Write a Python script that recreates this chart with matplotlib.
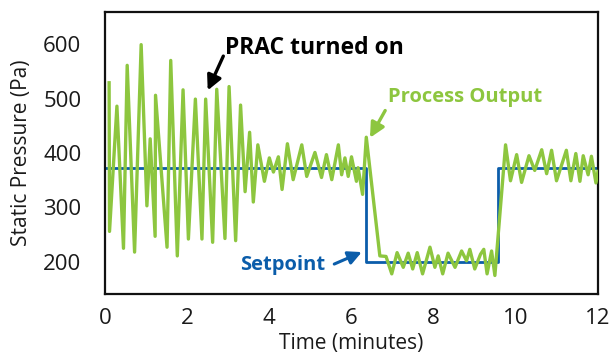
import matplotlib
matplotlib.use("Agg")
import matplotlib.pyplot as plt

plt.rcParams['font.family'] = ['Open Sans', 'DejaVu Sans']

# Process output (time in minutes, static pressure in Pa)
pv_time = [0.10, 0.11, 0.29, 0.45, 0.54, 0.72, 0.88, 1.02, 1.10, 1.22, 1.23, 1.51,
           1.60, 1.76, 1.90, 2.03, 2.20, 2.36, 2.45, 2.62, 2.72, 2.92, 3.02, 3.18,
           3.30, 3.41, 3.52, 3.61, 3.72, 3.88, 4.00, 4.10, 4.22, 4.31, 4.44, 4.58,
           4.79, 4.91, 5.11, 5.27, 5.39, 5.52, 5.68, 5.76, 5.84, 5.92, 6.00, 6.12,
           6.16, 6.27, 6.36,
           6.69, 6.84, 6.98, 7.11, 7.26, 7.38, 7.49, 7.60, 7.73, 7.91, 8.03, 8.11,
           8.22, 8.35, 8.52, 8.68, 8.80, 8.88, 9.00, 9.14, 9.22, 9.30, 9.41, 9.49,
           9.75, 9.87, 10.02, 10.14, 10.32, 10.46, 10.63, 10.75, 10.87, 10.99,
           11.23, 11.34, 11.46, 11.56, 11.64, 11.76, 11.84, 11.95, 12.00]
pv_value = [529, 256, 486, 225, 561, 218, 599, 303, 426, 247, 506, 227,
            570, 211, 516, 242, 499, 242, 499, 236, 517, 243, 522, 239,
            488, 329, 438, 310, 415, 348, 391, 365, 393, 333, 417, 351,
            415, 357, 401, 355, 397, 351, 415, 360, 391, 357, 393, 348,
            373, 324, 429,
            211, 210, 178, 217, 190, 216, 187, 217, 178, 227, 190, 211,
            178, 216, 190, 220, 202, 223, 187, 214, 223, 178, 220, 175,
            415, 349, 397, 346, 395, 368, 406, 362, 405, 349,
            405, 349, 399, 348, 395, 360, 394, 345, 366]

# Setpoint (step changes)
sp_time = [0, 6.35, 6.35, 9.57, 9.57, 12]
sp_value = [373, 373, 200, 200, 373, 373]

x_ticks = [0, 2, 4, 6, 8, 10, 12]
y_ticks = [200, 300, 400, 500, 600]

GREEN = '#8DC63F'
BLUE = '#0B5DAA'

fig = plt.figure(figsize=(6.13, 3.56), dpi=100)
ax = fig.add_axes([105/613, 1-294/356, 493/613, 282/356])

ax.plot(sp_time, sp_value, color=BLUE, lw=2.0, zorder=2)
ax.plot(pv_time, pv_value, color=GREEN, lw=2.4, zorder=3)

ax.set_xlim(0, 12)
ax.set_ylim(141, 659)
ax.set_xticks(x_ticks)
ax.set_yticks(y_ticks)
ax.tick_params(axis='both', length=0, labelsize=16, colors='#1a1a1a')
ax.tick_params(axis='x', pad=10)
ax.tick_params(axis='y', pad=17)
for s in ax.spines.values():
    s.set_linewidth(1.6)
    s.set_color('#111111')

ax.set_xlabel('Time (minutes)', fontsize=15, color='#1a1a1a')
ax.set_ylabel('Static Pressure (Pa)', fontsize=15, color='#1a1a1a')
ax.xaxis.set_label_coords(0.5, (294 - 354.5) / 282)
ax.xaxis.label.set_va('bottom')
ax.yaxis.set_label_coords(-0.17, 0.5)
ax.yaxis.label.set_va('center')

# Annotations
ax.text(2.92, 592, 'PRAC turned on', fontsize=16.5, fontweight='bold',
        color='black', ha='left', va='center')
ax.annotate('', xy=(2.50, 515), xytext=(2.88, 578),
            arrowprops=dict(arrowstyle='-|>', color='black', lw=2.4,
                            mutation_scale=22, shrinkA=0, shrinkB=0))

ax.text(6.88, 503, 'Process Output', fontsize=14.5, fontweight='bold',
        color=GREEN, ha='left', va='center')
ax.annotate('', xy=(6.45, 428), xytext=(6.82, 478),
            arrowprops=dict(arrowstyle='-|>', color=GREEN, lw=2.4,
                            mutation_scale=22, shrinkA=0, shrinkB=0))

ax.text(3.28, 194, 'Setpoint', fontsize=14.5, fontweight='bold',
        color=BLUE, ha='left', va='center')
ax.annotate('', xy=(6.25, 218), xytext=(5.58, 196),
            arrowprops=dict(arrowstyle='-|>', color=BLUE, lw=2.2,
                            mutation_scale=20, shrinkA=0, shrinkB=0))

fig.savefig('out.png', dpi=100)
